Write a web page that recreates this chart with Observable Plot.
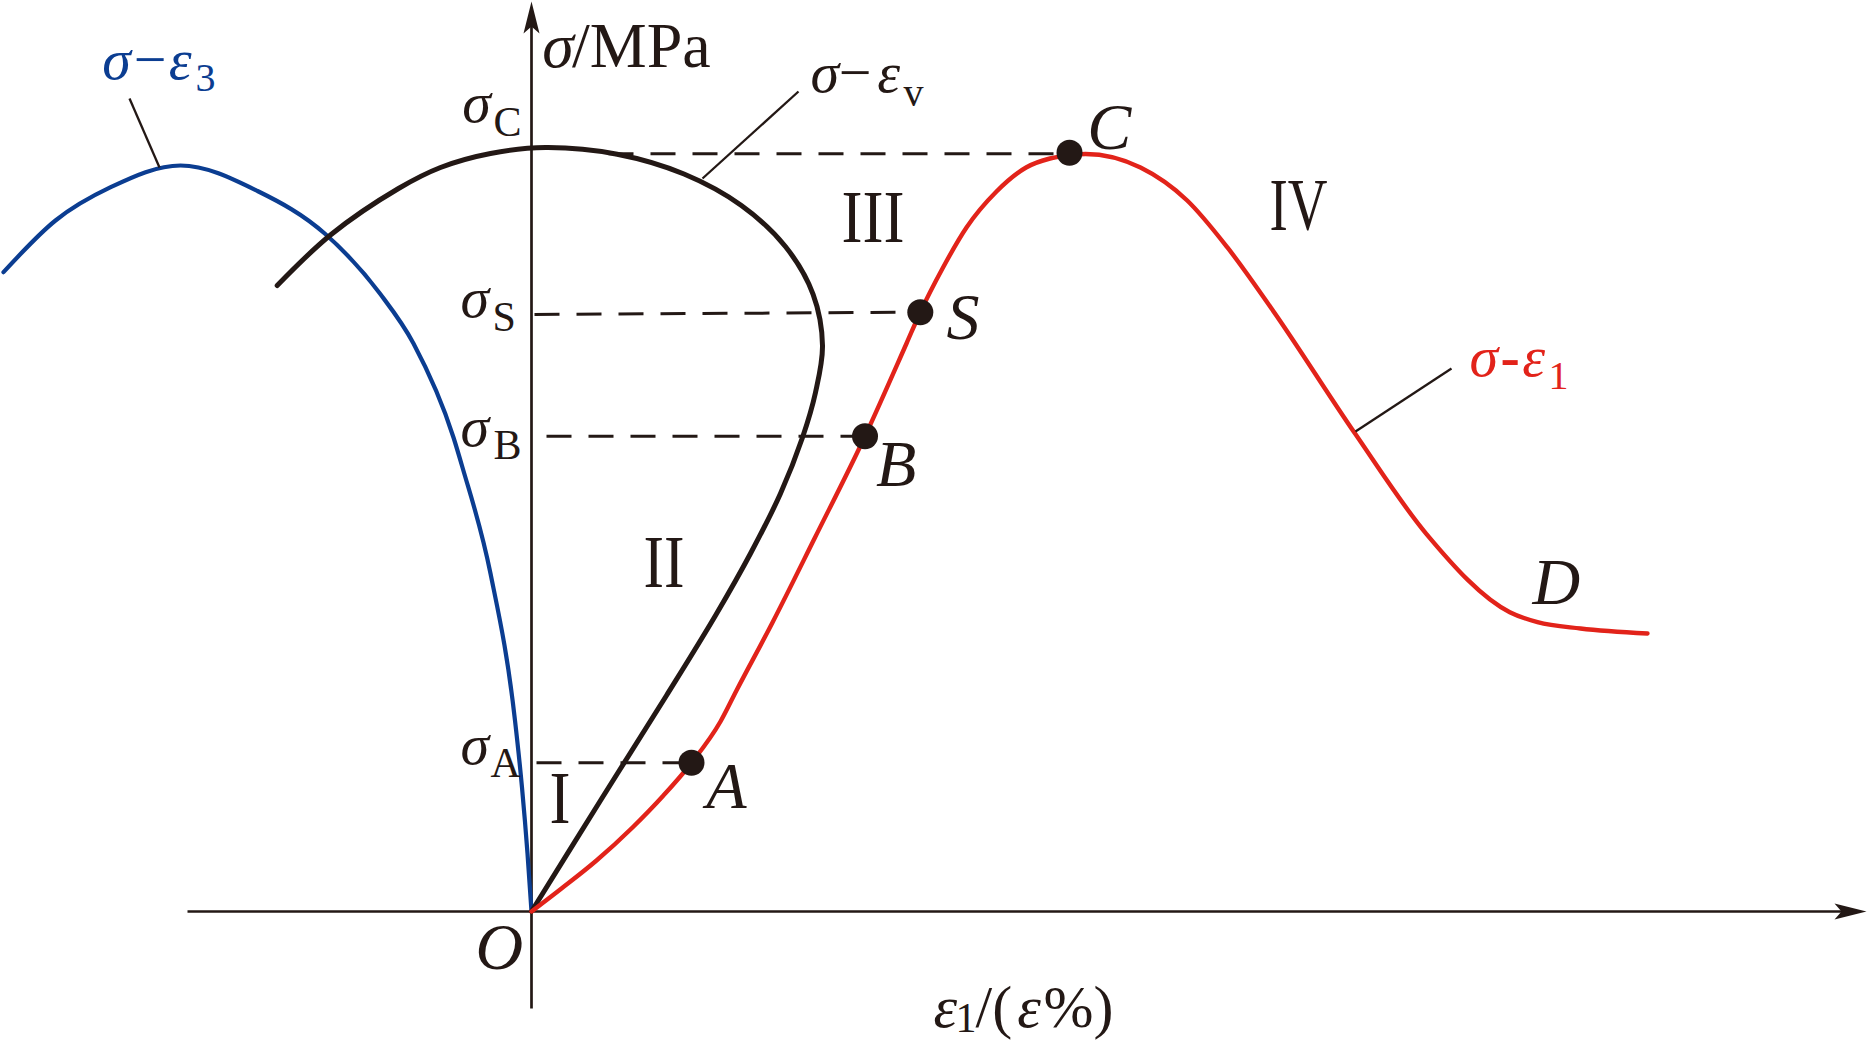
<!DOCTYPE html>
<html><head><meta charset="utf-8">
<script src="https://cdn.jsdelivr.net/npm/d3@7"></script>
<script src="https://cdn.jsdelivr.net/npm/@observablehq/plot@0.6"></script>
<style>html,body{margin:0;padding:0;background:#fff;overflow:hidden}#chart svg{display:block;max-width:none}</style>
</head><body><div id="chart"></div>
<script>
// Curves: [strain, stress] (arbitrary units)
const sigmaEps1 = [[0,0],[0.30,0.23],[0.65,0.51],[1.01,0.84],[1.31,1.15],[1.60,1.487],[1.89,1.90],[2.05,2.21],[2.41,2.89],[2.83,3.73],[3.335,4.753],[3.75,5.68],[3.888,5.993],[4.11,6.43],[4.35,6.84],[4.65,7.20],[4.946,7.44],[5.185,7.53],[5.38,7.56],[5.54,7.575],[6.09,7.44],[6.557,7.11],[6.957,6.643],[7.40,6.03],[8.237,4.777],[8.948,3.777],[9.783,2.993],[10.06,2.893],[10.49,2.83],[11.16,2.78]];
const sigmaEpsV = [[0,0],[0.69,1.11],[1.35,2.16],[1.84,2.96],[2.19,3.58],[2.49,4.18],[2.71,4.74],[2.84,5.19],[2.91,5.66],[2.816,6.172],[2.539,6.65],[2.099,7.06],[1.525,7.375],[0.857,7.573],[0.14,7.64],[-0.41,7.58],[-0.91,7.44],[-1.33,7.23],[-2.004,6.77],[-2.543,6.26]];
const sigmaEps3 = [[-5.28,6.393],[-4.76,6.91],[-4.208,7.243],[-3.51,7.46],[-2.74,7.205],[-2.065,6.777],[-1.514,6.177],[-1.18,5.68],[-0.78,4.74],[-0.69,4.44],[-0.41,3.38],[-0.165,1.91],[-0.095,1.24],[-0.04,0.58],[0,0]];

// Characteristic points on the sigma-eps1 curve
const pointNames = ["A","B","S","C"];
const pointStrain = [1.60, 3.335, 3.888, 5.38];
const pointStress = [1.487, 4.753, 5.993, 7.587];
// Dashed guides: start strain and level
const guideStart = [0.05, 0.15, 0.03, 0.77];
const guideLevel = [1.487, 4.753, 5.97, 7.577];

// Leader lines for curve names
const leaders = [
  {x1:-4.02, y1:8.13, x2:-3.72, y2:7.44},
  {x1:2.67, y1:8.20, x2:1.71, y2:7.33},
  {x1:8.24, y1:4.80, x2:9.20, y2:5.43}
];

const INK = "#231815", RED = "#e2231a", BLUE = "#0b3d91";
const SERIF = "Liberation Serif, 'Times New Roman', serif";

// Annotation texts: [x, y(baseline), text, size, italic, color, bold]
const annotations = [
  [0.107, 8.443, "σ", 64, true],
  [0.405, 8.443, "/MPa", 64, false],
  [-0.693, 7.893, "σ", 58, true], [-0.38, 7.76, "C", 42, false],
  [-0.71, 5.943, "σ", 58, true], [-0.39, 5.803, "S", 42, false],
  [-0.71, 4.66, "σ", 58, true], [-0.38, 4.527, "B", 42, false],
  [-0.71, 1.477, "σ", 58, true], [-0.41, 1.343, "A", 42, false],
  [-4.293, 8.327, "σ", 58, true, BLUE], [-3.977, 8.327, "−", 58, false, BLUE], [-3.627, 8.327, "ε", 58, true, BLUE], [-3.36, 8.203, "3", 40, false, BLUE],
  [2.79, 8.193, "σ", 58, true], [3.073, 8.193, "−", 58, false], [3.457, 8.193, "ε", 58, true], [3.72, 8.06, "v", 40, false],
  [9.38, 5.36, "σ", 58, true, RED], [9.69, 5.36, "-", 58, false, RED, true], [9.907, 5.36, "ε", 58, true, RED], [10.17, 5.23, "1", 40, false, RED],
  [4.02, -1.15, "ε", 60, true], [4.24, -1.207, "1", 42, false], [4.44, -1.15, "/(", 60, false], [4.857, -1.15, "ε", 60, true], [5.12, -1.15, "%)", 60, false],
  [-0.56, -0.57, "O", 66, true],
  [1.747, 1.037, "A", 66, true],
  [3.446, 4.253, "B", 66, true],
  [4.15, 5.727, "S", 66, true],
  [5.557, 7.627, "C", 66, true],
  [10.01, 3.077, "D", 66, true],
  [0.18, 0.883, "I", 74, false],
  [1.12, 3.25, "II", 74, false],
  [3.10, 6.693, "III", 74, false],
  [7.38, 6.817, "IV", 74, false]
];
const numeralWidths = {"I": 21, "II": 41, "III": 63, "IV": 58};

const arrowUp = {draw(ctx){ctx.moveTo(0,0);ctx.lineTo(-8,32);ctx.lineTo(0,25);ctx.lineTo(8,32);ctx.closePath();}};
const arrowRight = {draw(ctx){ctx.moveTo(0,0);ctx.lineTo(-32,-8);ctx.lineTo(-25,0);ctx.lineTo(-32,8);ctx.closePath();}};

const guides = pointNames.map((n,i) => ({x1: guideStart[i], x2: pointStrain[i], y1: guideLevel[i], y2: n==="S" ? pointStress[i] : guideLevel[i]}));
const points = pointNames.map((n,i) => ({name:n, x: pointStrain[i], y: pointStress[i]}));

const textMarks = annotations.map(([x,y,t,size,italic,color,bold]) =>
  Plot.text([{x,y,t}], {x:"x", y:"y", text:"t", textAnchor:"start", lineAnchor:"bottom",
    fontFamily: SERIF, fontSize: size, fontStyle: italic ? "italic" : "normal",
    fontWeight: bold ? "bold" : "normal", fill: color || INK}));

const chart = Plot.plot({
  width: 1870, height: 1054, margin: 0,
  x: {domain: [-5.31, 13.39], axis: null},
  y: {domain: [-1.43, 9.11], axis: null},
  style: {background: "#fff"},
  marks: [
    Plot.link([{x1:-3.44, y1:0, x2:13.2, y2:0}], {x1:"x1", y1:"y1", x2:"x2", y2:"y2", stroke: INK, strokeWidth: 2.7}),
    Plot.link([{x1:0, y1:-0.97, x2:0, y2:8.95}], {x1:"x1", y1:"y1", x2:"x2", y2:"y2", stroke: INK, strokeWidth: 2.7}),
    Plot.dot([{x:0, y:9.10}], {x:"x", y:"y", symbol: arrowUp, fill: INK, stroke: "none"}),
    Plot.dot([{x:13.35, y:0}], {x:"x", y:"y", symbol: arrowRight, fill: INK, stroke: "none"}),
    Plot.line(sigmaEps3, {x: d => d[0], y: d => d[1], stroke: BLUE, strokeWidth: 4.2, curve: "monotone-x"}),
    Plot.line(sigmaEpsV, {x: d => d[0], y: d => d[1], stroke: INK, strokeWidth: 5, curve: "catmull-rom"}),
    Plot.line(sigmaEps1, {x: d => d[0], y: d => d[1], stroke: RED, strokeWidth: 4.4, curve: "monotone-x"}),
    Plot.link(guides, {x1:"x1", y1:"y1", x2:"x2", y2:"y2", stroke: INK, strokeWidth: 3, strokeDasharray: "25,17"}),
    Plot.link(leaders, {x1:"x1", y1:"y1", x2:"x2", y2:"y2", stroke: INK, strokeWidth: 2.3}),
    Plot.dot(points, {x:"x", y:"y", r: 13, fill: INK, stroke: "none"}),
    ...textMarks
  ]
});
document.getElementById("chart").append(chart);
d3.select(chart).selectAll("text").each(function(){
  const w = numeralWidths[this.textContent];
  if (w) { this.setAttribute("textLength", w); this.setAttribute("lengthAdjust", "spacingAndGlyphs"); }
});
</script></body></html>
